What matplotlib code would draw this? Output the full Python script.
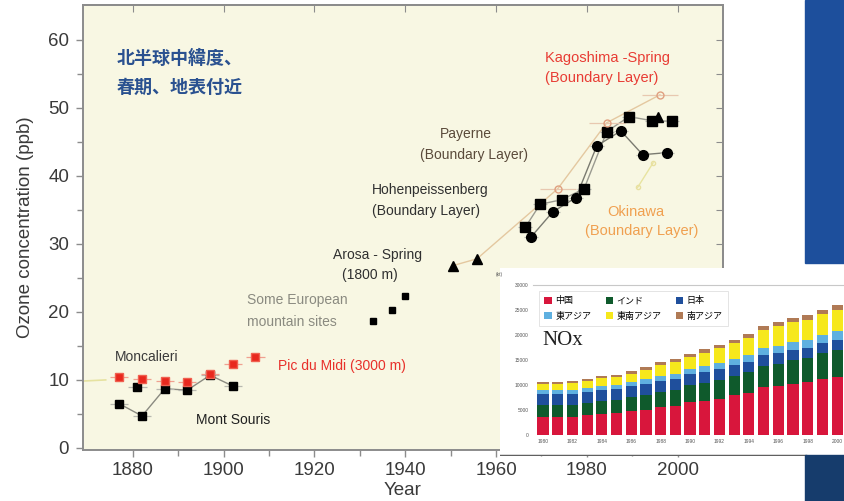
import matplotlib.pyplot as plt
from matplotlib.patches import Rectangle
import numpy as np

# ============================================================
# DATA
# ============================================================

# Europe, 19th century
moncalieri_year = [1868, 1874]
moncalieri_o3 = [9.8, 10.0]

pic_year = [1877, 1882, 1887, 1892, 1897, 1902, 1907]
pic_o3 = [10.5, 10.2, 9.9, 9.7, 10.9, 12.3, 13.4]

souris_year = [1877, 1882, 1887, 1892, 1897, 1902]
souris_o3 = [6.5, 4.7, 8.7, 8.5, 10.7, 9.1]

souris_extra_year = [1881]
souris_extra_o3 = [9.0]

# 20th century mountain / boundary layer sites
euro_year = [1933, 1937, 1940]
euro_o3 = [18.7, 20.3, 22.4]

arosa_year = [1950.5, 1955.8]
arosa_o3 = [26.8, 27.8]

hohen_year = [1966.4, 1969.7, 1974.5, 1979.4, 1984.4, 1989.3, 1994.3, 1998.7]
hohen_o3 = [32.4, 35.8, 36.5, 38.1, 46.5, 48.7, 48.1, 48.0]

payerne_year = [1967.7, 1972.5, 1977.6, 1982.2, 1987.5, 1992.3, 1997.6]
payerne_o3 = [31.0, 34.7, 36.8, 44.4, 46.6, 43.1, 43.4]

tri_year = [1995.7]
tri_o3 = [48.6]

kagoshima_year = [1973.6, 1984.4, 1996.1]
kagoshima_o3 = [38.1, 47.8, 51.9]

okinawa_year = [1991.2, 1994.6]
okinawa_o3 = [38.3, 41.9]

# Inset: Asian NOx emissions (kt)
nox_year = list(range(1980, 2001))
nox_china = [3700, 3700, 3700, 4000, 4300, 4400, 4800, 5100, 5600, 5800, 6600,
             6900, 7300, 8000, 8500, 9600, 9800, 10300, 10600, 11300, 11700]
nox_india = [2300, 2300, 2400, 2500, 2600, 2700, 2800, 3000, 3100, 3300, 3400,
             3600, 3800, 3900, 4100, 4300, 4500, 4700, 4900, 5100, 5300]
nox_japan = [2300, 2300, 2200, 2200, 2200, 2200, 2200, 2200, 2200, 2200, 2200,
             2200, 2200, 2100, 2100, 2100, 2100, 2100, 2000, 2000, 2000]
nox_east = [700, 700, 700, 750, 800, 800, 850, 900, 950, 1000, 1050,
            1100, 1150, 1200, 1300, 1350, 1450, 1500, 1550, 1650, 1750]
nox_seasia = [1300, 1300, 1400, 1430, 1450, 1520, 1650, 1780, 2200, 2400, 2450,
              2700, 2900, 3200, 3400, 3700, 4000, 4000, 4000, 4100, 4300]
nox_south = [400, 400, 400, 420, 450, 480, 500, 520, 550, 580, 600,
             650, 680, 700, 750, 780, 820, 850, 870, 900, 950]
nox_labels = ['中国', 'インド', '日本', '東アジア', '東南アジア', '南アジア']
nox_colors = ['#d8163c', '#0f5a2c', '#1f4f9c', '#5fb0e0', '#f6e81c', '#b07a55']

# ============================================================
# FIGURE
# ============================================================

W, H = 844, 501
fig = plt.figure(figsize=(W / 100, H / 100), dpi=100, facecolor='white')
plt.rcParams['font.family'] = ['Liberation Sans', 'DejaVu Sans']


def fx(px):
    return px / W


def fy(py):
    return 1 - py / H


# blue slide background on the right
fig.patches.append(Rectangle((fx(805), fy(263)), 39 / W, 263 / H,
                             transform=fig.transFigure, color='#1d4f9c', zorder=0))
fig.patches.append(Rectangle((fx(805), 0), 39 / W, 46 / H,
                             transform=fig.transFigure, color='#163c6c', zorder=0))

ax = fig.add_axes([fx(83), fy(450), 640 / W, 445 / H])
ax.set_facecolor('#f8f7e3')
ax.set_xlim(1869, 2010)
ax.set_ylim(-0.3, 65.1)

ax.set_xticks(np.arange(1880, 2001, 20))
ax.set_xticks(np.arange(1880, 2001, 10), minor=True)
ax.set_yticks(np.arange(0, 61, 10))
ax.set_yticks(np.arange(0, 61, 5), minor=True)
ax.tick_params(which='both', direction='out', color='#8c8c8c', width=1,
               labelsize=13.5, labelcolor='#3a3a3a')
ax.tick_params(which='major', length=5)
ax.tick_params(which='minor', length=4)
ax.tick_params(axis='y', pad=5)
for s in ax.spines.values():
    s.set_color('#8c8c8c')
    s.set_linewidth(1.4)

sec_r = ax.secondary_yaxis('right')
sec_r.set_yticks(np.arange(0, 61, 5))
sec_r.set_yticklabels([])
sec_r.tick_params(direction='in', length=5, color='#8c8c8c')
sec_r.spines['right'].set_color('#8c8c8c')
sec_r.spines['right'].set_linewidth(1.4)
sec_t = ax.secondary_xaxis('top')
sec_t.set_xticks(np.arange(1880, 2001, 20))
sec_t.set_xticklabels([])
sec_t.tick_params(direction='in', length=5, color='#8c8c8c')
sec_t.spines['top'].set_color('#8c8c8c')
sec_t.spines['top'].set_linewidth(1.4)

ax.set_ylabel('Ozone concentration (ppb)', fontsize=13.5, color='#3a3a3a', labelpad=10)
ax.set_xlabel('Year', fontsize=13.5, color='#3a3a3a', labelpad=2)

eb = dict(ecolor='#b8b8b0', elinewidth=0.9, capsize=0)

# 19th century
ax.plot(moncalieri_year, moncalieri_o3, color='#e6e2a0', lw=1.2, zorder=2)
ax.plot(souris_year, souris_o3, color='#8a8a80', lw=1, zorder=2)
ax.errorbar(souris_year, souris_o3, xerr=2, fmt='s', ms=6, color='black', zorder=3, **eb)
ax.errorbar(souris_extra_year, souris_extra_o3, xerr=2, fmt='s', ms=6, color='black', zorder=3, **eb)
ax.errorbar(pic_year, pic_o3, xerr=2, fmt='s', ms=6, color='#e8281e', mec='#f06050',
            zorder=4, ecolor='#f0a090', elinewidth=0.9, capsize=0)

# 20th century
ax.errorbar(euro_year, euro_o3, fmt='s', ms=5, color='black', zorder=3)
ax.plot(arosa_year + kagoshima_year, arosa_o3 + kagoshima_o3, color='#e4c8a0', lw=1, zorder=2)
ax.plot(arosa_year, arosa_o3, '^', ms=7, color='black', zorder=3)
ax.plot(hohen_year, hohen_o3, color='#9a9a90', lw=1, zorder=2)
ax.errorbar(hohen_year, hohen_o3, xerr=1.5, fmt='s', ms=6.5, color='black', zorder=3, **eb)
ax.plot(payerne_year, payerne_o3, color='#7a7a70', lw=1, zorder=2)
ax.errorbar(payerne_year, payerne_o3, xerr=1.5, fmt='o', ms=7, color='black', zorder=3, **eb)
ax.plot(tri_year, tri_o3, '^', ms=7, color='black', zorder=3)
ax.errorbar(kagoshima_year, kagoshima_o3, xerr=4, fmt='o', ms=5, mfc='none',
            mec='#e0a080', ecolor='#e8c8b0', elinewidth=0.9, capsize=0, zorder=3)
ax.plot(okinawa_year, okinawa_o3, color='#e8e4a0', lw=1, marker='o', ms=3,
        mfc='none', mec='#e8e0a0', zorder=2)


# annotations (pixel positions of the reference)
def label(px, py, s, color, size=10, **kw):
    fig.text(fx(px), fy(py), s, color=color, fontsize=size, ha='left', va='center', **kw)


label(115, 357, 'Moncalieri', '#3a3a3a')
label(278, 366, 'Pic du Midi (3000 m)', '#e8302a')
label(196, 420, 'Mont Souris', '#202020')
label(247, 300, 'Some European', '#8a8a80')
label(247, 322, 'mountain sites', '#8a8a80')
label(333, 255, 'Arosa - Spring', '#303030')
label(342, 275, '(1800 m)', '#303030')
label(372, 190, 'Hohenpeissenberg', '#303030')
label(372, 211, '(Boundary Layer)', '#303030')
label(440, 134, 'Payerne', '#5a4a3a')
label(420, 155, '(Boundary Layer)', '#5a4a3a')
label(545, 58, 'Kagoshima -Spring', '#e83c34', size=10.5)
label(545, 78, '(Boundary Layer)', '#e83c34', size=10.5)
label(607, 212, 'Okinawa', '#f0a050', size=10.5)
label(585, 231, '(Boundary Layer)', '#f0a050', size=10.5)
label(117, 58, '北半球中緯度、', '#2a5190', size=13,
      family=['Noto Sans CJK JP', 'DejaVu Sans'], fontweight='bold')
label(117, 87, '春期、地表付近', '#2a5190', size=13,
      family=['Noto Sans CJK JP', 'DejaVu Sans'], fontweight='bold')

# ============================================================
# INSET: NOx stacked bars
# ============================================================

bg = fig.add_axes([fx(500), fy(456), 344 / W, 188 / H])
bg.set_facecolor('white')
bg.set_xticks([])
bg.set_yticks([])
for s in bg.spines.values():
    s.set_visible(False)
bg.axhline(0, xmin=0, xmax=305 / 344, color='#606060', lw=2.5)

ia = fig.add_axes([fx(533), fy(435), 310 / W, 150 / H])
ia.set_facecolor('white')
x = np.arange(len(nox_year))
bottom = np.zeros(len(nox_year))
handles = []
for vals, lab, col in zip([nox_china, nox_india, nox_japan, nox_east, nox_seasia, nox_south],
                          nox_labels, nox_colors):
    b = ia.bar(x, vals, 0.76, bottom=bottom, color=col, label=lab, zorder=2)
    handles.append(b)
    bottom += np.array(vals)
ia.set_xlim(-0.68, 20.4)
ia.set_ylim(0, 30000)
ia.set_yticks(np.arange(0, 30001, 5000))
ia.set_xticks(x[::2])
ia.set_xticklabels([str(y) for y in nox_year[::2]])
ia.tick_params(labelsize=3.5, length=0, labelcolor='#555555', pad=3)
for k in ['left', 'right', 'bottom']:
    ia.spines[k].set_visible(False)
ia.spines['top'].set_color('#c8c8c8')
ia.text(-0.12, 1.06, '(kt)', transform=ia.transAxes, fontsize=3.5, color='#555555')
ia.text(0.03, 0.6, 'NOx', transform=ia.transAxes, fontsize=15, color='#202020',
        family=['Liberation Serif', 'DejaVu Serif'])

# legend filled row by row: 中国 インド 日本 / 東アジア 東南アジア 南アジア
order = [0, 3, 1, 4, 2, 5]
leg = ia.legend([handles[i] for i in order], [nox_labels[i] for i in order],
                ncol=3, loc='upper left', bbox_to_anchor=(0.005, 0.99),
                frameon=True, fancybox=False, handlelength=0.8, handleheight=0.8,
                columnspacing=1.6, labelspacing=0.7, borderpad=0.6, handletextpad=0.4,
                prop={'family': ['Noto Sans CJK JP', 'DejaVu Sans'], 'size': 6.5})
leg.get_frame().set_edgecolor('#d8d8d8')
leg.get_frame().set_linewidth(0.6)

fig.savefig('out.png', dpi=100, facecolor='white')
